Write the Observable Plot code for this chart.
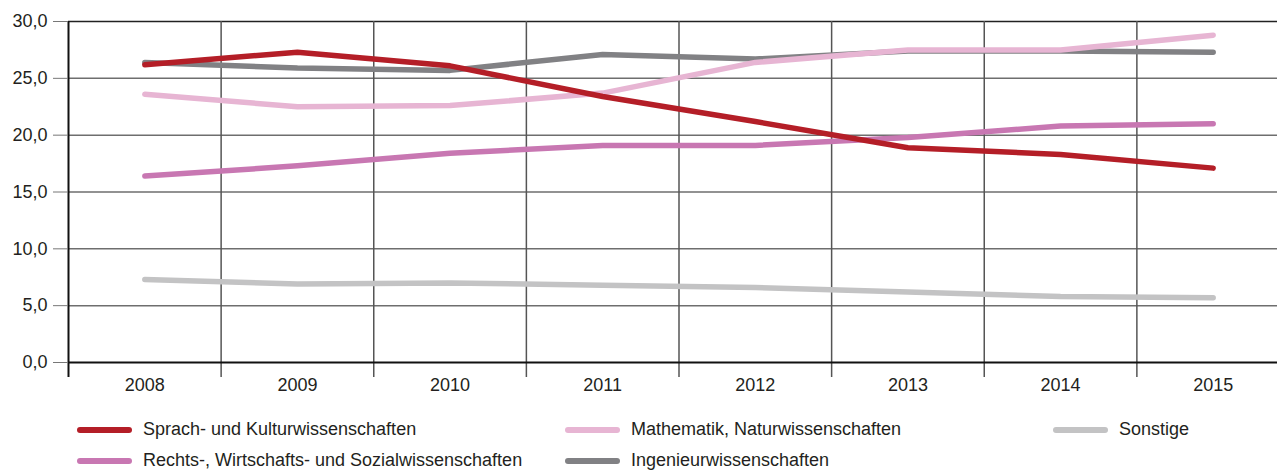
<!DOCTYPE html>
<html>
<head>
<meta charset="utf-8">
<script src="https://cdn.jsdelivr.net/npm/d3@7"></script>
<script src="https://cdn.jsdelivr.net/npm/@observablehq/plot@0.6"></script>
<style>
  html, body { margin: 0; padding: 0; background: white; }
  body { width: 1277px; height: 471px; position: relative; overflow: hidden; font-family: "Liberation Sans", Arial, sans-serif; color: #231f20; }
  #chart { position: absolute; left: 0; top: 0; }
  .leg { position: absolute; font-size: 18px; line-height: 20px; white-space: nowrap; }
  .sw { position: absolute; height: 6px; border-radius: 3px; }
</style>
</head>
<body>
<div id="chart"></div>
<div id="legend"></div>
<script>
const years = [2008, 2009, 2010, 2011, 2012, 2013, 2014, 2015];
const seriesNames = [
  "Sprach- und Kulturwissenschaften",
  "Mathematik, Naturwissenschaften",
  "Sonstige",
  "Rechts-, Wirtschafts- und Sozialwissenschaften",
  "Ingenieurwissenschaften"
];
const seriesColors = ["#b41e27", "#e7b5d3", "#c3c3c4", "#c877b2", "#818184"];
const sprach    = [26.2, 27.3, 26.1, 23.4, 21.2, 18.9, 18.3, 17.1];
const mathe     = [23.6, 22.5, 22.6, 23.7, 26.4, 27.5, 27.5, 28.8];
const sonstige  = [7.3, 6.9, 7.0, 6.8, 6.6, 6.2, 5.8, 5.7];
const rechts    = [16.4, 17.3, 18.4, 19.1, 19.1, 19.8, 20.8, 21.0];
const ingenieur = [26.4, 25.9, 25.7, 27.1, 26.7, 27.4, 27.4, 27.3];
const yTicks = [0, 5, 10, 15, 20, 25, 30];
const dividers = [2008.5, 2009.5, 2010.5, 2011.5, 2012.5, 2013.5, 2014.5];

const valuesByName = {
  [seriesNames[0]]: sprach,
  [seriesNames[1]]: mathe,
  [seriesNames[2]]: sonstige,
  [seriesNames[3]]: rechts,
  [seriesNames[4]]: ingenieur
};
// drawing order: bottom to top
const drawOrder = [seriesNames[2], seriesNames[4], seriesNames[1], seriesNames[3], seriesNames[0]];
const data = drawOrder.flatMap(name => years.map((year, i) => ({series: name, year, value: valuesByName[name][i]})));

const fmt = d => d.toFixed(1).replace(".", ",");

const chart = Plot.plot({
  width: 1277,
  height: 400,
  marginLeft: 68,
  marginTop: 21,
  marginBottom: 38,
  marginRight: 0,
  style: {fontFamily: "'Liberation Sans', Arial, sans-serif", fontSize: "18px", color: "#231f20", background: "white", overflow: "visible"},
  x: {type: "linear", domain: [2007.5, 2015.5], range: [68, 1289]},
  y: {domain: [0, 30], range: [362, 21]},
  color: {domain: seriesNames, range: seriesColors},
  marks: [
    Plot.ruleY(yTicks.filter(d => d > 0 && d < 30), {stroke: "#6e6e6e", strokeWidth: 1.5}),
    Plot.ruleY([30], {stroke: "#222", strokeWidth: 1.5}),
    Plot.ruleX(dividers, {stroke: "#555", strokeWidth: 1.5, insetBottom: -15}),
    Plot.ruleX([2007.5], {stroke: "#111", strokeWidth: 2, insetBottom: -15}),
    Plot.ruleY([0], {stroke: "#111", strokeWidth: 2}),
    Plot.axisY({ticks: yTicks, tickFormat: fmt, tickSize: 15, tickPadding: 6, stroke: "#777", label: null}),
    Plot.axisX({ticks: years, tickFormat: d => String(d), tickSize: 0, tickPadding: 16, label: null}),
    Plot.line(data, {x: "year", y: "value", z: "series", stroke: "series", strokeWidth: 5.5, strokeLinecap: "round", strokeLinejoin: "round"})
  ]
});
document.getElementById("chart").appendChild(chart);

// legend
const legendOrder = [
  [seriesNames[0], 0, 0], [seriesNames[1], 1, 0], [seriesNames[2], 2, 0],
  [seriesNames[3], 0, 1], [seriesNames[4], 1, 1]
];
const colX = [77, 565, 1053];
const rowY = [430, 461];
const leg = document.getElementById("legend");
for (const [name, c, r] of legendOrder) {
  const color = seriesColors[seriesNames.indexOf(name)];
  const sw = document.createElement("div");
  sw.className = "sw";
  sw.style.left = colX[c] + "px";
  sw.style.top = (rowY[r] - 3) + "px";
  sw.style.width = "55px";
  sw.style.background = color;
  leg.appendChild(sw);
  const t = document.createElement("div");
  t.className = "leg";
  t.style.left = (colX[c] + 66) + "px";
  t.style.top = (rowY[r] - 11) + "px";
  t.textContent = name;
  leg.appendChild(t);
}
</script>
</body>
</html>
